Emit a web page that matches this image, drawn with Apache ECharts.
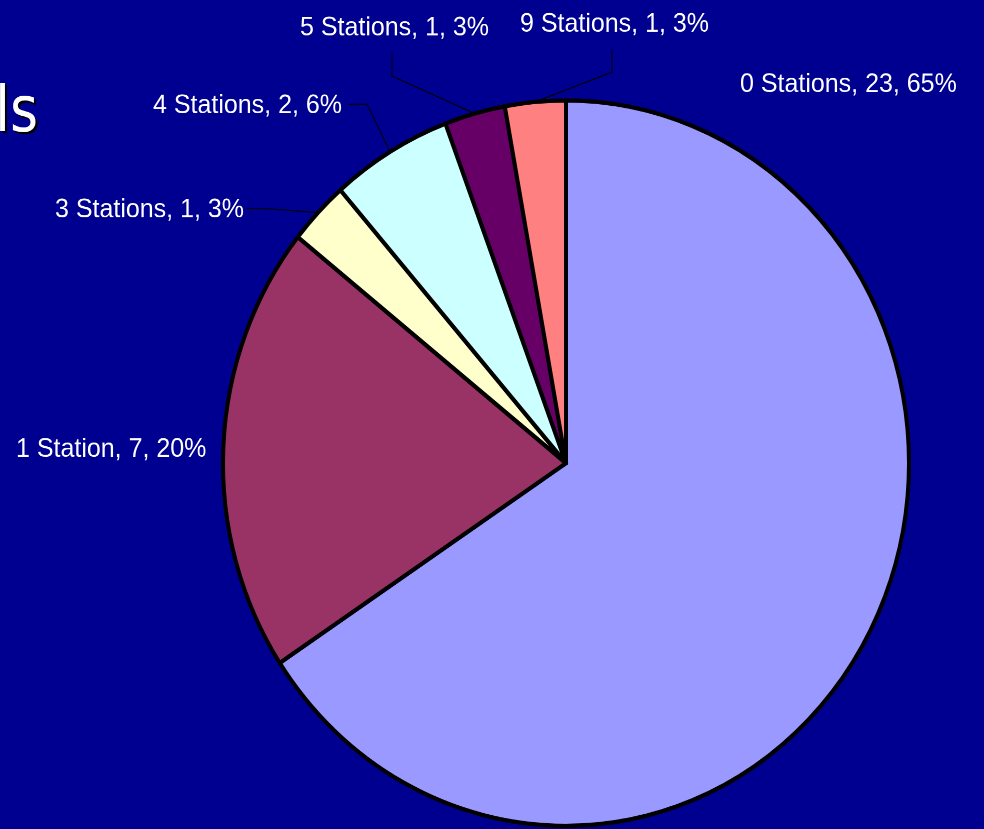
<!DOCTYPE html>
<html>
<head>
<meta charset="utf-8">
<script src="https://cdn.jsdelivr.net/npm/echarts@6/dist/echarts.min.js"></script>
<style>
  html, body { margin: 0; padding: 0; width: 984px; height: 829px; overflow: hidden; background: #000090; }
  #chart { width: 984px; height: 784px; transform: scaleY(1.0574); transform-origin: 0 0; }
</style>
</head>
<body>
<div id="chart"></div>
<script>
// ---- data ----
const categories = ['0 Stations', '1 Station', '3 Stations', '4 Stations', '5 Stations', '9 Stations'];
const counts = [23, 7, 1, 2, 1, 1];
const percents = [65, 20, 3, 6, 3, 3];
const colors = ['#9999FF', '#993366', '#FFFFCC', '#CCFFFF', '#660066', '#FF8080'];
const titleFragment = 'ls';

// ---- label layout (chart pixel coordinates, before vertical stretch) ----
const labelPos = [
  { x: 740, y: 80.3 },
  { x: 16, y: 425 },
  { x: 55, y: 198.5 },
  { x: 153, y: 100 },
  { x: 300, y: 26.4 },
  { x: 520, y: 23.2 }
];
const linePts = [
  null,
  null,
  [[270, 197.5], [247, 197]],
  [[367, 98.5], [349, 98.5]],
  [[392, 71.9], [392, 50.1]],
  [[612, 68.1], [612, 47.3]]
];

const chart = echarts.init(document.getElementById('chart'), null, { devicePixelRatio: 2 });
const data = categories.map((c, i) => ({
  name: c,
  value: counts[i],
  itemStyle: { color: colors[i] },
  labelLine: { show: linePts[i] !== null }
}));

const titleFont = '60px "DejaVu Sans Condensed", "DejaVu Sans"';

chart.setOption({
  animation: false,
  backgroundColor: '#000090',
  graphic: [{
    type: 'text',
    left: -3,
    top: 80.5,
    z: 10,
    style: { text: titleFragment, fill: '#000000', font: titleFont }
  }, {
    type: 'text',
    left: -5,
    top: 78.5,
    z: 11,
    style: { text: titleFragment, fill: '#ffffff', font: titleFont }
  }],
  series: [{
    type: 'pie',
    center: [566, 438],
    radius: 343,
    startAngle: 90,
    clockwise: true,
    avoidLabelOverlap: false,
    silent: true,
    data: data,
    itemStyle: { borderColor: '#000000', borderWidth: 4 },
    label: {
      show: true,
      position: 'outside',
      color: '#ffffff',
      fontFamily: 'Liberation Sans',
      fontSize: 25,
      formatter: p => `${p.name}, ${p.value}, ${percents[p.dataIndex]}%`
    },
    labelLine: {
      show: true,
      length: 10,
      length2: 10,
      lineStyle: { color: '#000000', width: 1 }
    },
    labelLayout: function (params) {
      const i = params.dataIndex;
      const res = { x: labelPos[i].x, y: labelPos[i].y, align: 'left', verticalAlign: 'middle' };
      if (linePts[i] && params.labelLinePoints) {
        res.labelLinePoints = [params.labelLinePoints[0], linePts[i][0], linePts[i][1]];
      }
      return res;
    }
  }]
});
</script>
</body>
</html>
